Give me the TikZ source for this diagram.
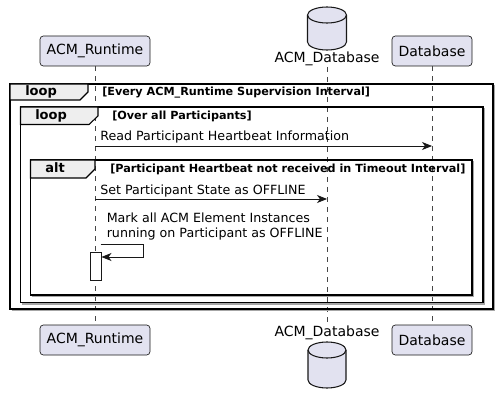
\documentclass[tikz,border=0pt]{standalone}
\usepackage{fontspec}
\setmainfont{DejaVu Sans}
\usetikzlibrary{arrows.meta}
\definecolor{partfill}{HTML}{E2E2F0}
\definecolor{partline}{HTML}{181818}
\definecolor{tabfill}{HTML}{EEEEEE}
\tikzset{
  participant/.style={draw=partline, fill=partfill, rounded corners=2.5pt, line width=0.5pt, minimum height=30*0.75pt, inner sep=0pt, font=\fontsize{10.5pt}{12pt}\selectfont},
  dblabel/.style={inner sep=0pt, font=\fontsize{10.5pt}{12pt}\selectfont},
  lifeline/.style={draw=partline!80, dash pattern=on 3.75pt off 3.75pt, line width=0.4pt},
  frameline/.style={draw=black, line width=1.1pt},
  frameshadow/.style={draw=black!35, line width=0.8pt},
  tabshape/.style={draw=black, fill=tabfill, line width=0.8pt},
  grouplabel/.style={inner sep=0pt, anchor=base west, font=\bfseries\fontsize{9.75pt}{11pt}\selectfont},
  guardlabel/.style={inner sep=0pt, anchor=base west, font=\bfseries\fontsize{8.4pt}{10pt}\selectfont},
  msglabel/.style={inner sep=0pt, anchor=base west, font=\fontsize{9.5pt}{11.25pt}\selectfont},
  msg/.style={draw=partline, line width=0.6pt, -{Stealth[length=7.5pt, width=6pt, inset=2.2pt]}},
  activation/.style={draw=partline, fill=white, line width=0.6pt},
}
\begin{document}
\begin{tikzpicture}[x=0.75pt, y=-0.75pt]
\useasboundingbox (0,0) rectangle (497,403);

% participants top
\node[participant, minimum width=110*0.75pt] (rt) at (95,51) {ACM\_Runtime};
\node[participant, minimum width=80*0.75pt] (db) at (432,51) {Database};
\node[dblabel, anchor=base] (adbl) at (327,63) {ACM\_Database};
\coordinate (adbtop) at (327,67);
% participants bottom
\node[participant, minimum width=110*0.75pt] (rtb) at (95,340) {ACM\_Runtime};
\node[participant, minimum width=80*0.75pt] (dbb) at (432,340) {Database};
\node[dblabel, anchor=base] (adblb) at (327,336) {ACM\_Database};
\coordinate (adbbot) at (327,326);

% cylinders
\draw[draw=partline, fill=partfill, line width=0.8pt]
  (307.5,15) -- (307.5,42) arc[start angle=180, end angle=360, x radius=19.5, y radius=-8] -- (346.5,15)
  arc[start angle=0, end angle=180, x radius=19.5, y radius=-8] -- cycle;
\draw[draw=partline, line width=0.8pt] (307.5,15) arc[start angle=180, end angle=360, x radius=19.5, y radius=-8];
\draw[draw=partline, fill=partfill, line width=0.8pt]
  (308,350) -- (308,380) arc[start angle=180, end angle=360, x radius=19, y radius=-8] -- (346,350)
  arc[start angle=0, end angle=180, x radius=19, y radius=-8] -- cycle;
\draw[draw=partline, line width=0.8pt] (308,350) arc[start angle=180, end angle=360, x radius=19, y radius=-8];

% lifelines
\draw[lifeline] (rt.south) -- (rtb.north);
\draw[lifeline] (db.south) -- (dbb.north);
\draw[lifeline] (adbtop) -- (adbbot);

% outer loop frame
\draw[frameshadow] (11.5,310.5) -- (494.5,310.5) -- (494.5,85.5);
\draw[frameline] (10,84) rectangle (493,309);
\draw[tabshape] (10,84) -- (88,84) -- (88,92) -- (80,100) -- (10,100) -- cycle;
\node[grouplabel] (l1) at (25,95.5) {loop};
\node[guardlabel] (g1) at (102,96) {[Every ACM\_Runtime Supervision Interval]};

% inner loop frame
\draw[frameshadow] (21.5,304) -- (484.5,304) -- (484.5,108.5);
\draw[frameline] (20.5,107) rectangle (483,302.5);
\draw[tabshape] (20.5,107) -- (98,107) -- (98,116) -- (89,124.5) -- (20.5,124.5) -- cycle;
\node[grouplabel] (l2) at (35,120) {loop};
\node[guardlabel] (g2) at (112,119.5) {[Over all Participants]};

% message 1
\coordinate (m1a) at (95,146);
\coordinate (m1b) at (432,146);
\draw[msg] (m1a) -- (m1b);
\node[msglabel] (t1) at (100,141) {Read Participant Heartbeat Information};

% alt frame
\draw[frameshadow] (31.5,296.5) -- (473.5,296.5) -- (473.5,161.5);
\draw[frameline] (30.5,160) rectangle (472,295);
\draw[tabshape] (30.5,160) -- (95,160) -- (95,169) -- (86,178) -- (30.5,178) -- cycle;
\node[grouplabel] (l3) at (45,172.5) {alt};
\node[guardlabel] (g3) at (110,173) {[Participant Heartbeat not received in Timeout Interval]};

% message 2
\coordinate (m2a) at (95,199);
\coordinate (m2b) at (327,199);
\draw[msg] (m2a) -- (m2b);
\node[msglabel] (t2) at (100,195) {Set Participant State as OFFLINE};

% self message
\node[activation, minimum width=10.5*0.75pt, minimum height=28*0.75pt, inner sep=0pt, anchor=north west] (act) at (90.2,252) {};
\coordinate (s0) at (100.7,244);
\coordinate (s1) at (143,244);
\coordinate (s2) at (143,257);
\draw[msg] (s0) -- (s1) -- (s2) -- (act.east |- s2);
\node[msglabel, align=left, anchor=north west, font=\fontsize{9.5pt}{11.25pt}\selectfont] (t3) at (106.5,212.5) {Mark all ACM Element Instances\\running on Participant as OFFLINE};
\end{tikzpicture}
\end{document}
